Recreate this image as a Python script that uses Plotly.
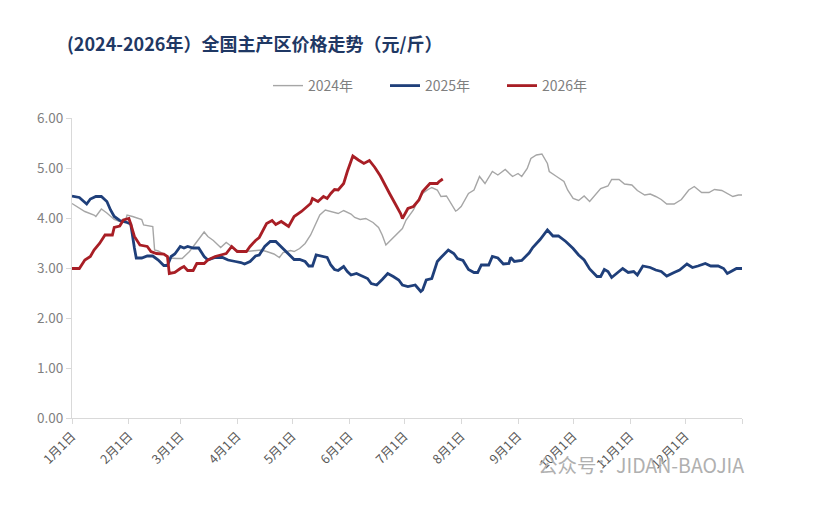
import pandas as pd
import plotly.graph_objects as go

# ---- data (day offset from Jan 1, price in 元/斤) ----
days_2024 = [0, 3, 7, 12, 13, 16, 19, 23, 26, 29, 30, 33, 35, 38, 39, 43, 44, 45, 47, 50,
             53, 57, 60, 64, 68, 71, 72, 74, 77, 81, 84, 87, 90, 95, 99, 103, 106, 110, 113, 115,
             119, 121, 124, 127, 130, 132, 135, 138, 141, 145, 148, 152, 154, 157, 160, 164, 167, 169, 171, 174,
             177, 180, 182, 186, 189, 191, 194, 196, 199, 201, 204, 207, 209, 210, 212, 216, 219, 222, 225, 229,
             232, 236, 240, 243, 245, 248, 250, 253, 256, 259, 260, 264, 268, 270, 273, 276, 279, 282, 285, 288,
             292, 294, 298, 301, 305, 308, 312, 315, 318, 321, 324, 328, 332, 336, 339, 343, 347, 350, 354, 357,
             360, 363, 365]
vals_2024 = [4.29, 4.22, 4.13, 4.06, 4.03, 4.18, 4.10, 3.97, 3.93, 3.94, 4.06, 4.03, 4.00, 3.97, 3.86, 3.84, 3.83, 3.36, 3.34, 3.28,
             3.20, 3.19, 3.19, 3.33, 3.53, 3.66, 3.72, 3.63, 3.55, 3.41, 3.51, 3.43, 3.35, 3.33, 3.35, 3.36, 3.33, 3.28, 3.21, 3.31,
             3.35, 3.33, 3.39, 3.49, 3.66, 3.83, 4.06, 4.16, 4.13, 4.09, 4.15, 4.08, 4.01, 3.97, 3.99, 3.91, 3.81, 3.66, 3.46, 3.57,
             3.66, 3.79, 3.96, 4.16, 4.39, 4.49, 4.57, 4.61, 4.56, 4.43, 4.44, 4.26, 4.14, 4.16, 4.23, 4.49, 4.56, 4.83, 4.69, 4.93,
             4.86, 4.97, 4.83, 4.89, 4.83, 4.99, 5.19, 5.26, 5.28, 5.09, 4.93, 4.83, 4.73, 4.56, 4.39, 4.35, 4.44, 4.33, 4.47, 4.59,
             4.64, 4.77, 4.77, 4.68, 4.66, 4.55, 4.46, 4.48, 4.43, 4.37, 4.28, 4.28, 4.37, 4.56, 4.63, 4.51, 4.51, 4.57, 4.55, 4.49,
             4.43, 4.46, 4.46]

days_2025 = [0, 4, 8, 10, 13, 16, 19, 21, 23, 26, 30, 32, 34, 35, 38, 41, 44, 47, 50, 52,
             54, 56, 59, 61, 63, 66, 69, 72, 74, 78, 82, 85, 89, 92, 94, 97, 100, 102, 105, 108,
             111, 113, 116, 119, 121, 124, 127, 129, 131, 133, 136, 139, 141, 143, 145, 148, 150, 152, 155, 158,
             161, 163, 166, 169, 172, 175, 178, 180, 183, 187, 190, 191, 193, 196, 199, 201, 205, 208, 210, 213,
             216, 219, 221, 223, 227, 229, 232, 235, 238, 239, 241, 245, 249, 251, 255, 259, 262, 265, 269, 273,
             276, 279, 282, 286, 288, 290, 292, 294, 297, 300, 303, 306, 308, 311, 315, 318, 321, 324, 328, 331,
             335, 338, 341, 345, 348, 352, 355, 357, 359, 362, 365]
vals_2025 = [4.44, 4.41, 4.28, 4.38, 4.43, 4.43, 4.33, 4.16, 4.03, 3.95, 3.91, 3.88, 3.40, 3.20, 3.20, 3.24, 3.24, 3.16, 3.05, 3.05,
             3.23, 3.28, 3.43, 3.40, 3.43, 3.40, 3.40, 3.23, 3.16, 3.21, 3.21, 3.16, 3.13, 3.11, 3.08, 3.13, 3.24, 3.26, 3.43, 3.53,
             3.53, 3.46, 3.35, 3.23, 3.17, 3.17, 3.13, 3.04, 3.04, 3.26, 3.24, 3.21, 3.06, 2.97, 2.95, 3.03, 2.93, 2.86, 2.89, 2.84,
             2.79, 2.69, 2.66, 2.77, 2.89, 2.83, 2.76, 2.66, 2.63, 2.66, 2.53, 2.56, 2.76, 2.79, 3.13, 3.21, 3.36, 3.29, 3.19, 3.15,
             2.97, 2.91, 2.91, 3.06, 3.06, 3.23, 3.20, 3.08, 3.09, 3.21, 3.13, 3.15, 3.30, 3.41, 3.57, 3.76, 3.64, 3.64, 3.53, 3.39,
             3.26, 3.16, 2.98, 2.83, 2.83, 2.97, 2.93, 2.81, 2.91, 2.99, 2.91, 2.93, 2.86, 3.04, 3.01, 2.96, 2.93, 2.84, 2.91, 2.96,
             3.08, 3.01, 3.04, 3.09, 3.04, 3.04, 2.99, 2.89, 2.93, 2.99, 2.99]

days_2026 = [0, 4, 7, 10, 12, 15, 18, 22, 23, 26, 28, 31, 32, 34, 37, 41, 43, 46, 50, 52,
             53, 56, 59, 61, 63, 66, 68, 72, 74, 78, 81, 84, 87, 90, 95, 97, 100, 102, 106, 109,
             111, 114, 118, 121, 125, 130, 131, 134, 137, 139, 141, 143, 145, 148, 150, 153, 156, 159, 162, 165,
             168, 170, 173, 176, 179, 180, 183, 186, 189, 191, 195, 199, 200, 202]
vals_2026 = [2.99, 2.99, 3.16, 3.23, 3.36, 3.49, 3.66, 3.66, 3.81, 3.84, 3.96, 3.99, 3.88, 3.63, 3.46, 3.43, 3.33, 3.29, 3.28, 3.23,
             2.89, 2.91, 2.99, 3.03, 2.95, 2.95, 3.09, 3.09, 3.16, 3.23, 3.26, 3.29, 3.43, 3.33, 3.33, 3.43, 3.55, 3.61, 3.89, 3.95,
             3.87, 3.93, 3.83, 4.03, 4.13, 4.29, 4.39, 4.33, 4.43, 4.39, 4.49, 4.57, 4.56, 4.69, 4.93, 5.24, 5.16, 5.09, 5.15, 5.01,
             4.84, 4.69, 4.49, 4.29, 4.09, 3.99, 4.19, 4.23, 4.36, 4.53, 4.69, 4.69, 4.73, 4.78]

tick_labels = ["1月1日", "2月1日", "3月1日", "4月1日", "5月1日", "6月1日",
               "7月1日", "8月1日", "9月1日", "10月1日", "11月1日", "12月1日", ""]

title_text = "<b>(2024-2026年）全国主产区价格走势（元/斤）</b>"

# ---- build ----
base = pd.Timestamp("2025-01-01")
def to_dates(days):
    return [base + pd.Timedelta(days=d) for d in days]

tick_vals = [pd.Timestamp(f"2025-{m:02d}-01") for m in range(1, 13)] + [pd.Timestamp("2026-01-01")]

fig = go.Figure()
fig.add_trace(go.Scatter(x=to_dates(days_2024), y=vals_2024, mode="lines", name="2024年",
                         line=dict(color="#a6a6a6", width=1.4)))
fig.add_trace(go.Scatter(x=to_dates(days_2025), y=vals_2025, mode="lines", name="2025年",
                         line=dict(color="#1f3f7a", width=2.8)))
fig.add_trace(go.Scatter(x=to_dates(days_2026), y=vals_2026, mode="lines", name="2026年",
                         line=dict(color="#a81e25", width=2.8)))

font_family = "Noto Sans CJK SC, Noto Sans, sans-serif"

fig.update_layout(
    width=820, height=516,
    margin=dict(l=72, r=78, t=118, b=98, autoexpand=False),
    paper_bgcolor="white", plot_bgcolor="white",
    font=dict(family=font_family, color="#595959"),
    title=dict(text=title_text, x=67/820, xanchor="left", xref="container",
               y=1-45/516, yanchor="middle", yref="container",
               font=dict(size=18, color="#1f3864", family=font_family)),
    legend=dict(orientation="h", x=268/820, xanchor="left", xref="container",
                y=1-86/516, yanchor="middle", yref="container",
                font=dict(size=14, color="#7f7f7f"),
                entrywidth=72, entrywidthmode="pixels", itemwidth=30, tracegroupgap=0),
    showlegend=True,
    hovermode=False,
)

fig.update_xaxes(range=[base, pd.Timestamp("2026-01-01")], tickmode="array",
                 tickvals=tick_vals, ticktext=tick_labels, tickangle=-45, automargin=False,
                 showgrid=False, showline=True, linecolor="#d9d9d9", linewidth=1,
                 ticks="outside", ticklen=5, tickcolor="#d9d9d9",
                 tickfont=dict(size=12.5, color="#595959"), zeroline=False)
fig.update_yaxes(range=[0, 6], dtick=1, tickformat=".2f", automargin=False,
                 showgrid=False, showline=True, linecolor="#d9d9d9", linewidth=1,
                 ticks="outside", ticklen=5, tickcolor="#d9d9d9",
                 tickfont=dict(size=13.5, color="#7f7f7f"), zeroline=False)

fig.add_annotation(text="公众号：JIDAN-BAOJIA", xref="paper", yref="paper",
                   x=1.006, y=-0.155, xanchor="right", yanchor="middle", showarrow=False,
                   font=dict(size=19.5, color="#b0b0b0", family=font_family))

fig.write_html("out.html")
